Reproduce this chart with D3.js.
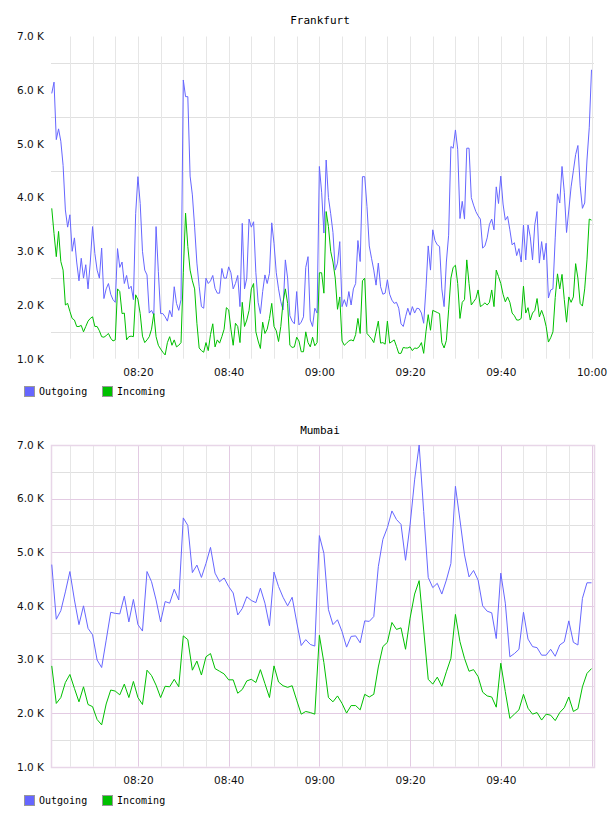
<!DOCTYPE html>
<html>
<head>
<meta charset="utf-8">
<script src="https://cdn.jsdelivr.net/npm/d3@7"></script>
<style>
  body { margin: 0; background: #fff; }
  svg { display: block; }
  .tick text { font-family: "DejaVu Sans", sans-serif; font-size: 10.5px; fill: #111; }
  .title { font-family: "DejaVu Sans Mono", monospace; font-size: 11px; }
  .legend text { font-family: "DejaVu Sans Mono", monospace; font-size: 10px; }
</style>
</head>
<body>
<div id="chart"></div>
<script>
// values in thousands, Frankfurt sampled every 30 s, Mumbai every 60 s, both from 08:01
var fraOut = [5.94, 6.15, 5.08, 5.28, 5.05, 4.6, 3.77, 3.45, 3.68,
  3.0, 3.25, 2.8, 2.45, 2.87, 2.5, 2.75, 2.3, 2.8, 3.46,
  2.96, 2.65, 2.5, 3.06, 2.12, 2.3, 2.4, 2.2, 2.1, 2.05,
  3.05, 2.7, 2.8, 2.4, 2.55, 2.3, 2.35, 2.1, 3.7, 4.39,
  3.89, 3.0, 2.65, 2.56, 1.85, 1.9, 1.81, 3.46, 2.62, 1.84,
  1.84, 1.78, 1.7, 1.9, 1.78, 2.34, 2.03, 1.9, 2.1, 6.19,
  5.88, 5.88, 4.4, 4.05, 3.45, 2.78, 2.35, 1.97, 1.94, 2.5,
  2.40, 2.45, 2.55, 2.31, 2.22, 2.22, 2.68, 2.5, 2.5, 2.71,
  2.6, 2.3, 2.4, 2.55,
  1.97, 3.52, 2.3, 2.5, 3.6, 3.45,
  3.55, 2.6, 2.05, 1.84, 2.25, 2.56, 2.4, 2.59, 3.53, 3.15,
  2.6, 2.3, 2.06, 1.91, 2.84, 2.5, 1.8, 1.7, 1.65, 2.25,
  1.63, 1.68, 1.78, 2.7, 2.9, 1.72, 1.6, 1.94, 1.85, 4.58,
  4.1, 3.34, 4.70, 4.0, 3.7, 3.35, 2.65, 2.78, 3.18, 1.97,
  2.1, 1.97, 2.25, 2.0, 2.3, 2.4, 3.2, 2.81, 4.39, 4.39,
  3.83, 3.1, 2.87, 2.65, 2.37, 2.78, 2.34, 2.2, 2.22, 2.47,
  2.2, 2.09, 2.03, 2.05, 1.94, 1.65, 1.6, 1.78, 1.94, 1.81,
  1.97, 1.85, 1.94, 1.93, 1.85, 1.66, 2.3, 3.1,
  2.65, 3.4,
  3.2, 3.12, 3.09, 2.3, 1.97, 2.8, 3.3, 4.95, 4.92, 5.26,
  4.9, 3.61, 3.93, 3.6, 4.92, 4.92, 4.0, 3.86, 3.74, 3.66,
  3.6, 3.06, 3.1, 3.25, 3.5, 3.6, 3.4, 4.2, 3.89, 4.4,
  3.88, 3.58, 3.65, 3.4, 3.12, 3.16, 2.92, 3.05, 2.8, 3.49,
  2.84, 3.49, 3.27, 2.84, 3.5, 3.74, 2.78, 3.18, 2.84, 3.15,
  2.13, 2.28, 2.3, 3.25, 4.07, 3.9, 4.58, 4.1, 3.35, 3.77,
  4.2, 4.5, 4.8, 4.97, 4.22, 3.8, 3.9, 4.70, 5.3, 6.38];

var fraIn = [3.80, 3.33, 2.9, 3.37, 2.81, 2.65, 2.0, 2.03, 1.88,
  1.75, 1.72, 1.60, 1.6, 1.62, 1.50, 1.6, 1.7, 1.75, 1.78,
  1.6, 1.6, 1.52, 1.41, 1.4, 1.43, 1.47, 1.38, 1.33, 1.35,
  2.3, 2.25, 1.84, 1.85, 1.35, 1.41, 1.42, 1.41, 2.19, 2.1,
  1.84, 1.42, 1.3, 1.35, 1.41, 1.55, 1.84, 1.41, 1.25, 1.18,
  1.12, 1.07, 1.3, 1.41, 1.25, 1.35, 1.22, 1.25, 1.3, 2.6,
  3.71, 3.09, 2.65, 2.45, 2.3, 1.66, 1.2, 1.15, 1.12, 1.3,
  1.15, 1.45, 1.65, 1.22, 1.35, 1.29, 1.41, 1.55, 1.95, 1.91,
  1.55, 1.25, 1.66, 1.6,
  1.3, 2.05, 1.6, 1.72, 1.9, 2.3,
  2.40, 1.5, 1.33, 1.19, 1.68, 1.47, 1.55, 1.75, 2.03, 1.6,
  1.52, 1.32, 1.6, 2.06, 2.3, 2.03, 1.25, 1.21, 1.22, 1.4,
  1.33, 1.13, 1.13, 1.5, 1.3, 1.22, 1.4, 1.24, 1.3, 2.6,
  2.6, 2.22, 3.74, 3.46, 3.0, 2.8, 2.5, 1.92, 2.15, 1.33,
  1.25, 1.29, 1.33, 1.35, 1.33, 1.45, 1.75, 1.47, 2.45, 2.5,
  1.47, 1.42, 1.37, 1.3, 1.5, 1.7, 1.29, 1.3, 1.27, 1.7,
  1.29, 1.32, 1.35, 1.23, 1.1, 1.1, 1.21, 1.2, 1.2, 1.22,
  1.15, 1.2, 1.19, 1.22, 1.3, 1.1, 1.5, 1.82,
  1.53, 1.9,
  1.88, 1.86, 1.84, 1.3, 1.2, 1.34, 1.91, 2.5, 2.7, 2.74,
  2.4, 1.75, 2.05, 2.1, 2.84, 2.4, 2.0, 2.06, 2.12, 2.28,
  1.97, 2.0, 2.04, 2.0, 2.05, 2.28, 1.97, 2.65, 2.53, 2.4,
  2.2, 2.06, 2.15, 2.05, 1.85, 1.8, 1.72, 1.72, 1.75, 2.35,
  1.85, 1.95, 1.72, 1.85, 1.9, 2.12, 1.78, 1.9, 1.78, 1.6,
  1.31, 1.39, 1.5, 2.14, 2.58, 2.3, 2.57, 2.1, 1.68, 2.15,
  2.05, 2.15, 2.77, 2.5, 2.03, 1.98, 2.3, 2.84, 3.6, 3.58];

var mumOut = [4.77, 3.75, 3.91, 4.26, 4.64, 4.11, 3.65, 4.00, 3.58, 3.46,
  2.99, 2.85, 3.36, 3.88, 3.86, 3.85, 4.18, 3.70, 4.12, 3.65,
  3.53, 4.64, 4.45, 4.11, 3.70, 4.08, 4.05, 4.31, 4.11, 5.64,
  5.50, 4.62, 4.76, 4.53, 4.79, 5.09, 4.61, 4.45, 4.52, 4.36,
  4.24, 3.83, 3.95, 4.17, 4.10, 4.06, 4.33, 4.05, 3.63, 4.63,
  4.36, 4.16, 4.00, 4.16, 3.70, 3.26, 3.37, 3.28, 3.25,
  5.31, 4.98, 3.93, 3.65, 3.74, 3.52, 3.23, 3.43, 3.44, 3.31,
  3.72, 3.71, 3.80, 4.73, 5.24, 5.46, 5.77, 5.61, 5.52, 4.85,
  5.51, 6.35, 7.00, 5.76, 4.53, 4.34, 4.42, 4.22, 4.48, 4.79,
  6.23, 5.60, 4.95, 4.54, 4.66, 4.48, 4.00, 3.90, 3.87, 3.39,
  4.61, 4.05, 3.05, 3.11, 3.19, 3.88, 3.38, 3.24, 3.22, 3.08,
  3.08, 3.19, 3.06, 3.27, 3.33, 3.72, 3.32, 3.27, 4.14, 4.43, 4.43];

var mumIn = [2.88, 2.18, 2.29, 2.57, 2.72, 2.46, 2.21, 2.49, 2.16, 2.12,
  1.88, 1.78, 2.17, 2.43, 2.41, 2.34, 2.54, 2.29, 2.59, 2.29,
  2.16, 2.80, 2.70, 2.52, 2.29, 2.50, 2.49, 2.63, 2.49, 3.44,
  3.37, 2.80, 2.97, 2.71, 3.05, 3.11, 2.83, 2.78, 2.73, 2.62,
  2.62, 2.37, 2.44, 2.60, 2.63, 2.57, 2.81, 2.55, 2.29, 2.88,
  2.58, 2.51, 2.48, 2.51, 2.24, 1.98, 2.03, 2.01, 1.98,
  3.45, 2.94, 2.29, 2.21, 2.32, 2.18, 2.00, 2.14, 2.14, 2.06,
  2.35, 2.30, 2.35, 2.86, 3.24, 3.32, 3.69, 3.56, 3.59, 3.19,
  3.77, 4.22, 4.47, 3.55, 2.63, 2.54, 2.67, 2.50, 2.77, 3.02,
  3.84, 3.33, 3.02, 2.78, 2.81, 2.68, 2.39, 2.32, 2.30, 2.11,
  2.93, 2.40, 1.90, 1.98, 2.06, 2.35, 2.09, 1.98, 2.01, 1.87,
  1.98, 1.96, 1.86, 2.01, 2.10, 2.30, 2.03, 2.08, 2.49, 2.74, 2.83];

var seriesNames = ["Outgoing", "Incoming"];
var seriesColors = ["#6666ff", "#00c000"];
var yTicks = [1, 2, 3, 4, 5, 6, 7];
var yMinor = [1.5, 2.5, 3.5, 4.5, 5.5, 6.5];
var fraLabels = ["08:20", "08:40", "09:00", "09:20", "09:40", "10:00"];
var mumLabels = ["08:20", "08:40", "09:00", "09:20", "09:40"];

var parseHM = d3.timeParse("%H:%M:%S");
var start = parseHM("08:01:00");

function times(n, stepSec) {
  return d3.range(n).map(function (i) { return new Date(+start + i * stepSec * 1000); });
}

var width = 608, height = 816;
var svg = d3.select("#chart").append("svg")
  .attr("width", width)
  .attr("height", height);

var x = d3.scaleTime()
  .domain([parseHM("08:00:50"), parseHM("10:00:33")])
  .range([51, 594]);

function drawPanel(opt) {
  var y = d3.scaleLinear().domain([1, 7]).range([opt.bottom, opt.top]);
  var g = svg.append("g");
  var fmt = d3.timeFormat("%H:%M");
  var five = x.ticks(d3.timeMinute.every(5));

  g.append("text").attr("class", "title")
    .attr("x", 320).attr("y", opt.titleY)
    .attr("text-anchor", "middle")
    .text(opt.title);

  // minor grid
  g.selectAll(".hmin").data(yMinor).enter().append("line")
    .attr("x1", 51).attr("x2", 594)
    .attr("y1", function (d) { return Math.round(y(d)) + 0.5; })
    .attr("y2", function (d) { return Math.round(y(d)) + 0.5; })
    .attr("stroke", "#e0e0e0");
  g.selectAll(".vmin").data(five).enter().append("line")
    .attr("x1", function (d) { return Math.round(x(d)) + 0.5; })
    .attr("x2", function (d) { return Math.round(x(d)) + 0.5; })
    .attr("y1", opt.top).attr("y2", opt.bottom)
    .attr("stroke", function (d) {
      return opt.major && d.getMinutes() % 20 == 0 ? opt.major : "#e6e6e6";
    });

  if (opt.major) {
    g.selectAll(".hmaj").data(yTicks).enter().append("line")
      .attr("x1", 51).attr("x2", 594)
      .attr("y1", function (d) { return Math.round(y(d)) + 0.5; })
      .attr("y2", function (d) { return Math.round(y(d)) + 0.5; })
      .attr("stroke", opt.major);
    g.append("rect")
      .attr("x", 51.5).attr("y", Math.round(opt.top) + 0.5)
      .attr("width", 543).attr("height", Math.round(opt.bottom - opt.top))
      .attr("fill", "none").attr("stroke", "#e8d6e8").attr("stroke-width", 1.5);
  }

  // axes
  var yAxis = d3.axisLeft(y).tickValues(yTicks).tickSize(0).tickPadding(7)
    .tickFormat(function (d) { return d.toFixed(1) + " K"; });
  g.append("g").attr("transform", "translate(51,0)").call(yAxis)
    .call(function (s) { s.select(".domain").remove(); });

  var labelTimes = opt.labels.map(function (s) { return d3.timeParse("%H:%M")(s); });
  var xAxis = d3.axisBottom(x).tickValues(labelTimes).tickSize(0).tickPadding(10)
    .tickFormat(fmt);
  g.append("g").attr("transform", "translate(0," + opt.bottom + ")").call(xAxis)
    .call(function (s) { s.select(".domain").remove(); });

  // series
  var t = times(opt.out.length, opt.step);
  var line = d3.line()
    .x(function (d, i) { return x(t[i]); })
    .y(function (d) { return y(d); });
  [opt.out, opt["in"]].forEach(function (vals, k) {
    g.append("path").datum(vals)
      .attr("d", line)
      .attr("fill", "none")
      .attr("stroke", seriesColors[k])
      .attr("stroke-width", 1);
  });

  // legend
  var lg = g.append("g").attr("class", "legend")
    .attr("transform", "translate(24," + opt.legendY + ")");
  var item = lg.selectAll("g").data(seriesNames).enter().append("g")
    .attr("transform", function (d, i) { return "translate(" + (i * 78) + ",0)"; });
  item.append("rect")
    .attr("x", 0.5).attr("y", 0.5).attr("width", 10).attr("height", 10)
    .attr("fill", function (d, i) { return seriesColors[i]; })
    .attr("stroke", "#999");
  item.append("text").attr("x", 15).attr("y", 9).text(function (d) { return d; });
}

drawPanel({ title: "Frankfurt", titleY: 24, top: 36.5, bottom: 358.7,
  out: fraOut, "in": fraIn, step: 30, labels: fraLabels, legendY: 386, major: null });
drawPanel({ title: "Mumbai", titleY: 434, top: 445, bottom: 766.7,
  out: mumOut, "in": mumIn, step: 60, labels: mumLabels, legendY: 795, major: "#e3cbe3" });
</script>
</body>
</html>
